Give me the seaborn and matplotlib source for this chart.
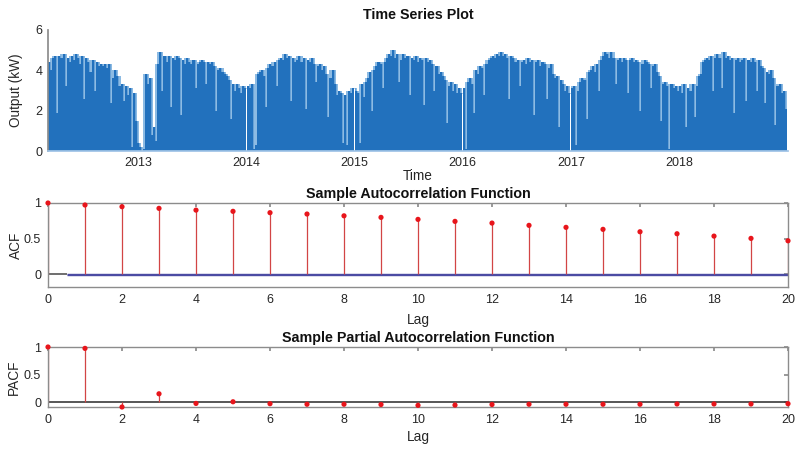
import numpy as np
import pandas as pd
import matplotlib
matplotlib.use("Agg")
import matplotlib.pyplot as plt
import seaborn as sns

# ---------------- data (weekly PV output readings, kW) ----------------
output_2012 = [4.4, 4.0, 4.6, 4.7, 1.9, 4.7,
               4.6, 4.8, 3.2, 4.6, 4.4, 4.7,
               4.5, 4.8, 4.6, 4.3, 4.7, 2.6,
               4.6, 4.4, 3.9, 4.5, 3.0, 4.4,
               4.2, 4.3, 4.2, 4.3, 4.1,
               4.3, 2.4, 3.6, 4.0, 3.7,
               3.2, 3.3, 2.5, 3.2, 2.8,
               3.1, 0.2, 2.9, 1.5, 0.4]
output_2013 = [0.2, 0.0, 0.1, 3.8, 3.3, 3.6,
               0.8, 1.2, 0.5, 4.3, 4.9, 3.0,
               4.7, 4.4, 4.7, 2.2, 4.6, 4.5,
               4.7, 4.6, 1.8, 4.5, 4.3, 4.6,
               4.4, 4.3, 4.5, 3.1, 4.3, 4.4,
               4.5, 4.4, 3.3, 4.4, 4.3, 4.4,
               4.2, 2.0, 4.0, 4.1, 3.9, 3.8,
               3.7, 3.5, 1.6, 3.3, 3.0, 3.3,
               3.1, 2.9, 3.2, 3.1]
output_2014 = [3.2, 3.1, 3.3, 0.1, 0.3, 3.8,
               3.9, 4.0, 3.7, 2.2, 4.1, 4.3,
               4.2, 4.4, 3.2, 4.5, 4.6, 4.5,
               4.8, 4.6, 4.7, 2.5, 4.6, 4.4,
               4.5, 4.7, 4.4, 4.6, 2.1, 4.5,
               4.4, 4.6, 4.3, 3.4, 4.2, 4.3,
               4.0, 4.2, 3.8, 1.7, 3.6, 4.0,
               3.3, 2.8, 3.0, 2.9, 0.4, 2.8,
               0.3, 3.0, 2.9, 3.1]
output_2015 = [3.0, 2.9, 0.4, 3.3, 2.7, 3.4,
               3.6, 3.9, 2.0, 4.0, 4.2, 4.4,
               4.3, 3.1, 4.4, 4.6, 4.8, 4.7,
               5.0, 4.6, 4.8, 3.4, 4.5, 4.8,
               4.6, 4.7, 2.8, 4.6, 4.5, 4.7,
               4.4, 4.6, 4.5, 2.3, 4.6, 4.4,
               4.5, 4.3, 3.0, 4.2, 3.8, 3.9,
               3.7, 3.5, 1.4, 3.2, 3.4, 3.0,
               3.3, 2.9, 3.1, 2.9]
output_2016 = [3.1, 0.1, 3.4, 3.6, 3.3, 1.9,
               4.0, 3.8, 4.2, 4.1, 2.8, 4.3,
               4.5, 4.6, 4.7, 4.6, 4.8, 4.7,
               4.9, 4.7, 4.8, 4.6, 2.6, 4.7,
               4.6, 4.4, 4.5, 3.2, 4.4, 4.5,
               4.3, 4.6, 4.4, 4.5, 1.8, 4.4,
               4.5, 4.2, 4.4, 4.3, 2.6, 4.1,
               4.3, 3.8, 3.6, 3.7, 1.2, 3.5,
               3.3, 3.0, 3.2, 2.9]
output_2017 = [3.1, 3.2, 0.3, 3.0, 3.4, 3.6,
               3.5, 1.6, 3.9, 4.0, 4.2, 3.9,
               4.3, 3.0, 4.5, 4.7, 4.9, 4.8,
               4.6, 4.9, 4.6, 3.3, 4.5, 4.6,
               4.4, 4.6, 4.5, 2.9, 4.5, 4.6,
               4.4, 4.5, 4.4, 2.0, 4.3, 4.5,
               4.4, 4.3, 3.1, 4.2, 4.3, 3.9,
               3.7, 1.5, 3.3, 3.4, 3.2, 0.1,
               3.3, 3.1, 3.2, 3.0]
output_2018 = [3.2, 2.9, 3.3, 1.2, 3.1, 3.0,
               3.3, 1.7, 3.2, 3.7, 3.8, 4.4,
               4.5, 4.6, 4.5, 4.7, 3.0, 4.6,
               4.8, 4.6, 3.1, 4.9, 4.6, 4.7,
               4.5, 4.6, 1.9, 4.5, 4.6, 4.4,
               4.5, 4.6, 2.5, 4.5, 4.4, 4.6,
               4.4, 3.0, 4.5, 4.2, 4.1, 2.4,
               3.9, 3.8, 4.0, 3.6, 1.3, 3.2,
               3.3, 2.9, 3.0, 2.1]
year_starts = ["2012-03-01", "2013-01-01", "2014-01-01", "2015-01-01",
               "2016-01-01", "2017-01-01", "2018-01-01"]
year_ticks = ["2013", "2014", "2015", "2016", "2017", "2018"]

lags = list(range(21))
acf_values = [1.0, 0.972, 0.948, 0.925, 0.90, 0.883, 0.864, 0.845, 0.82, 0.798,
              0.77, 0.742, 0.718, 0.686, 0.658, 0.63, 0.596, 0.568, 0.535, 0.503, 0.469]
pacf_values = [1.0, 0.975, -0.09, 0.15, -0.025, 0.005, -0.03, -0.04, -0.04, -0.045,
               -0.06, -0.055, -0.045, -0.04, -0.04, -0.04, -0.04, -0.035, -0.035, -0.035, -0.03]
acf_bounds = [0.006, -0.006]

# ---------------- styling ----------------
sns.set_theme(style="white")
plt.rcParams['font.family'] = ['Liberation Sans', 'DejaVu Sans']
plt.rcParams['font.size'] = 9

TXT = '#262626'
SPINE = '#8c8c8c'
BLUE = '#2271bd'
LIGHT = '#8dbbe3'
STEM = '#d24545'
DOT = '#e8151b'

series = [output_2012, output_2013, output_2014, output_2015,
          output_2016, output_2017, output_2018]
dates, vals = [], []
for start, v in zip(year_starts, series):
    dates.extend(pd.date_range(start, periods=len(v), freq="7D"))
    vals.extend(v)
ts = pd.DataFrame({"date": dates, "kw": vals})
ts["envelope"] = ts["kw"].rolling(3, center=True, min_periods=1).max()

fig = plt.figure(figsize=(7.97, 4.49), dpi=100)
W, H = 797, 449


def px_axes(left, top, right, bottom):
    return fig.add_axes([left / W, 1 - bottom / H, (right - left) / W, (bottom - top) / H])


ax1 = px_axes(48, 30, 788, 151)
ax2 = px_axes(48, 203, 788, 287)
ax3 = px_axes(48, 347, 788, 407)

# ---- time series ----
ax1.bar(ts["date"], ts["envelope"], width=7, align="edge", color=LIGHT, linewidth=0)
ax1.bar(ts["date"], ts["kw"], width=7, align="edge", color=BLUE, linewidth=0)
sns.lineplot(data=ts, x="date", y="kw", ax=ax1, color=BLUE, linewidth=0.4,
             drawstyle="steps-post", alpha=0.6)
ax1.set_xlim(pd.Timestamp("2012-03-01"), pd.Timestamp("2019-01-04"))
ax1.set_ylim(0, 6)
ax1.set_yticks([0, 2, 4, 6])
ax1.set_xticks([pd.Timestamp(f"{y}-01-01") for y in year_ticks])
ax1.set_xticklabels(year_ticks)
for s in ["top", "right"]:
    ax1.spines[s].set_visible(False)
ax1.spines["left"].set_color(SPINE)
ax1.spines["bottom"].set_color('#9fc3e6')
ax1.tick_params(direction="in", length=3, colors=SPINE, labelcolor=TXT, labelsize=9, pad=4)
ax1.tick_params(axis="x", length=0)
ax1.set_title("Time Series Plot", fontsize=10.3, fontweight="bold", color='#111111', pad=8)
ax1.set_xlabel("Time", fontsize=9.8, color=TXT)
ax1.set_ylabel("Output (kW)", fontsize=9.8, color=TXT)
ax1.xaxis.set_label_coords(0.5, -25 / 121)
ax1.xaxis.label.set_va("center")
ax1.yaxis.set_label_coords(-32 / 740, 0.5)
ax1.yaxis.label.set_va("center")


def corr_panel(ax, values, ylim, title, zero_color, bounds=None):
    ax.vlines(lags, 0, values, color=STEM, linewidth=0.9, zorder=2)
    if bounds is not None:
        ax.hlines(0, 0, 0.5, color='#555555', linewidth=1.2, zorder=1)
        ax.hlines(bounds, 0.5, 20, color='#4b4ba3', linewidth=1.0, zorder=1)
    else:
        ax.hlines(0, 0, 20, color=zero_color, linewidth=1.2, zorder=1)
    sns.scatterplot(x=lags, y=values, ax=ax, color=DOT, s=14, edgecolor="none",
                    zorder=3, clip_on=False)
    ax.set_xlim(0, 20)
    ax.set_ylim(*ylim)
    ax.set_xticks(range(0, 21, 2))
    ax.set_yticks([0, 0.5, 1])
    ax.set_yticklabels(["0", "0.5", "1"])
    for s in ax.spines.values():
        s.set_color(SPINE)
        s.set_linewidth(1.0)
    ax.tick_params(direction="in", length=3, top=True, right=True, colors=SPINE,
                   labelcolor=TXT, labelsize=9, pad=5)
    ax.set_title(title, fontsize=10.3, fontweight="bold", color='#111111', pad=3.5)
    ax.set_xlabel("Lag", fontsize=9.8, color=TXT)


corr_panel(ax2, acf_values, (-0.18, 1.0), "Sample Autocorrelation Function", '#555555', acf_bounds)
ax2.set_ylabel("ACF", fontsize=9.8, color=TXT)
ax2.xaxis.set_label_coords(0.5, -33 / 84)
ax2.xaxis.label.set_va("center")
ax2.yaxis.set_label_coords(-32 / 740, 0.5)
ax2.yaxis.label.set_va("center")

corr_panel(ax3, pacf_values, (-0.09, 1.0), "Sample Partial Autocorrelation Function", '#3a3a3a')
ax3.set_ylabel("PACF", fontsize=9.8, color=TXT)
ax3.xaxis.set_label_coords(0.5, -30 / 60)
ax3.xaxis.label.set_va("center")
ax3.yaxis.set_label_coords(-34 / 740, 0.5)
ax3.yaxis.label.set_va("center")

fig.savefig("out.png", dpi=100)
